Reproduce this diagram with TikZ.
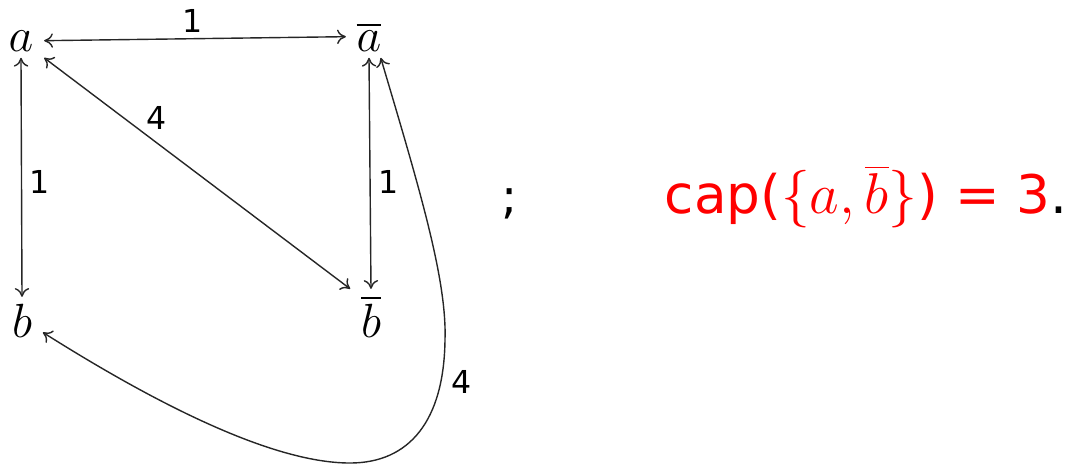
\documentclass[tikz,border=0pt]{standalone}
\usepackage{fontspec}
\setsansfont{DejaVu Sans}
\usetikzlibrary{arrows.meta}
\begin{document}
\begin{tikzpicture}[x=0.25pt,y=-0.25pt,
  vert/.style={font=\fontsize{12}{14}\selectfont, inner xsep=2.5pt, inner ysep=1.5pt, anchor=base},
  lbl/.style={font=\fontsize{7.9}{9}\selectfont\sffamily, inner sep=0pt},
  edge/.style={line width=0.35pt, draw=black!85, {To[length=2.2pt,width=3.6pt]}-{To[length=2.2pt,width=3.6pt]}}]
\useasboundingbox (0,0) rectangle (1073,465);
\node[vert] (a) at (21,51) {$a$};
\node[vert] (abar) at (369,51) {$\overline{a}$};
\node[vert] (b) at (22,337) {$b$};
\node[vert] (bbar) at (371,337) {$\overline{b}$};
\draw[edge] (a.east) -- (abar.west);
\draw[edge] (a.south) -- (b.north);
\draw[edge] (abar.south) -- (bbar.north);
\draw[edge] (a.south east) -- (bbar.north west);
\draw[edge] (abar.-61) .. controls (420,190) and (447,280) .. (445,340)
  .. controls (444,420) and (410,463) .. (350,463)
  .. controls (270,463) and (150,400) .. (b.-30);
\node[lbl] (l1) at (193,21) {1};
\node[lbl] (l2) at (40,182) {1};
\node[lbl] (l3) at (389,182) {1};
\node[lbl] (l4) at (157,118) {4};
\node[lbl] (l5) at (462,382) {4};
\node[font=\fontsize{12}{14}\selectfont\sffamily, anchor=base, inner sep=0pt] (semi) at (510,213) {;};
\node[font=\fontsize{13.3}{15}\selectfont, text=red, anchor=base west, inner sep=0pt] (cap) at (664,213)
  {\textsf{cap(}{\fontsize{14.5}{16}\selectfont$\{a,\overline{b}\}$}\textsf{) = 3}\textcolor{black}{\textsf{.}}};
\end{tikzpicture}
\end{document}
